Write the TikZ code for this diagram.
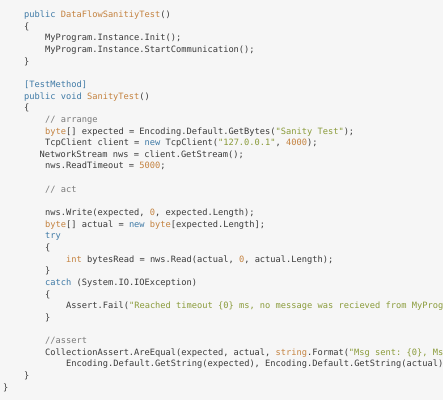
\documentclass[tikz,border=0pt]{standalone}
\usepackage{fontspec}
\setmonofont{DejaVu Sans Mono}
\usepackage{tikz}
\usetikzlibrary{positioning}
\definecolor{bgcode}{HTML}{F6F6F6}
\definecolor{kwcol}{HTML}{3F7AA6}
\definecolor{tycol}{HTML}{C4823F}
\definecolor{strcol}{HTML}{8A9B3A}
\definecolor{cmtcol}{HTML}{7A7A7A}
\definecolor{txtcol}{HTML}{3A3A3A}
\newcommand{\kwd}[1]{\textcolor{kwcol}{#1}}
\newcommand{\typ}[1]{\textcolor{tycol}{#1}}
\newcommand{\strg}[1]{\textcolor{strcol}{#1}}
\newcommand{\cmnt}[1]{\textcolor{cmtcol}{#1}}

\begin{document}
\begin{tikzpicture}[x=1pt,y=-1pt,
  codeline/.style={anchor=base west,inner sep=0pt,text=txtcol,
    font=\ttfamily\fontsize{8.7}{10}\selectfont}]
  \useasboundingbox (0,0) rectangle (447,400);
  \fill[bgcode] (0,0) rectangle (443,400);
  \begin{scope}
  \clip (0,0) rectangle (442,400);
  % constructor
  \node[codeline] (ctor) at (24,17.5) {\kwd{public} \typ{DataFlowSanitiyTest}()};
  \node[codeline] (ctoropen) at (24,29.2) {\{};
  \node[codeline] (init) at (45,40.8) {MyProgram.Instance.Init();};
  \node[codeline] (start) at (45,52.4) {MyProgram.Instance.StartCommunication();};
  \node[codeline] (ctorclose) at (24,64.1) {\}};
  % test method
  \node[codeline] (attr) at (24,87.4) {\kwd{[TestMethod]}};
  \node[codeline] (sig) at (24,99.0) {\kwd{public} \kwd{void} \typ{SanityTest}()};
  \node[codeline] (bodyopen) at (24,110.7) {\{};
  \node[codeline] (arrange) at (45,122.3) {\cmnt{// arrange}};
  \node[codeline] (expect) at (45,134.0) {\typ{byte}[] expected = Encoding.Default.GetBytes(\strg{"Sanity Test"});};
  \node[codeline] (client) at (45,145.6) {TcpClient client = \kwd{new} TcpClient(\strg{"127.0.0.1"}, \typ{4000});};
  \node[codeline] (stream) at (39.4,157.3) {NetworkStream nws = client.GetStream();};
  \node[codeline] (timeout) at (45,168.9) {nws.ReadTimeout = \typ{5000};};
  \node[codeline] (act) at (45,192.2) {\cmnt{// act}};
  \node[codeline] (write) at (45,215.5) {nws.Write(expected, \typ{0}, expected.Length);};
  \node[codeline] (actual) at (45,227.2) {\typ{byte}[] actual = \kwd{new} \typ{byte}[expected.Length];};
  \node[codeline] (try) at (45,238.8) {\kwd{try}};
  \node[codeline] (tryopen) at (45,250.4) {\{};
  \node[codeline] (read) at (66,262.1) {\typ{int} bytesRead = nws.Read(actual, \typ{0}, actual.Length);};
  \node[codeline] (tryclose) at (45,273.7) {\}};
  \node[codeline] (catch) at (45,285.4) {\kwd{catch} (System.IO.IOException)};
  \node[codeline] (catchopen) at (45,297.0) {\{};
  \node[codeline] (fail) at (66,308.7) {Assert.Fail(\strg{"Reached timeout \{0\} ms, no message was recieved from MyProgram}};
  \node[codeline] (catchclose) at (45,320.3) {\}};
  \node[codeline] (assertc) at (45,343.6) {\cmnt{//assert}};
  \node[codeline] (equal) at (45,355.3) {CollectionAssert.AreEqual(expected, actual, \typ{string}.Format(\strg{"Msg sent: \{0\}, Msg}};
  \node[codeline] (getstr) at (66,366.9) {Encoding.Default.GetString(expected), Encoding.Default.GetString(actual));};
  \node[codeline] (bodyclose) at (24,378.6) {\}};
  \node[codeline] (classclose) at (3,390.2) {\}};
  \end{scope}
\end{tikzpicture}
\end{document}
